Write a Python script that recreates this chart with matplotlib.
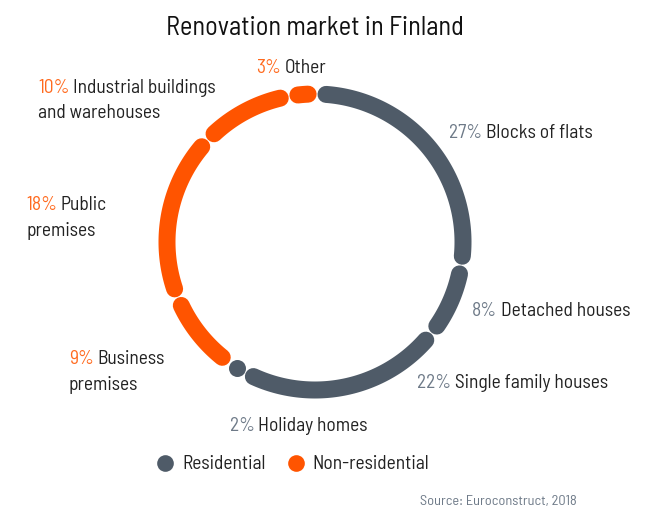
import numpy as np
import matplotlib
matplotlib.use("Agg")
import matplotlib.pyplot as plt

categories = ["Blocks of flats", "Detached houses", "Single family houses", "Holiday homes",
              "Business\npremises", "Public\npremises", "Industrial buildings\nand warehouses", "Other"]
values = [27, 8, 22, 2, 9, 18, 10, 3]
groups = ["Residential", "Residential", "Residential", "Residential",
          "Non-residential", "Non-residential", "Non-residential", "Non-residential"]
title = "Renovation market in Finland"
source = "Source: Euroconstruct, 2018"

colors = {"Residential": "#4F5B68", "Non-residential": "#FF5400"}
pct_colors = {"Residential": "#6E7A88", "Non-residential": "#FF6A1E"}
text_color = "#222222"

# layout (pixel coords of the label's left edge and first-line centre)
label_pos = [(449, 133), (472, 311), (417, 383), (230, 426),
             (69, 359), (26, 205), (38, 88), (256, 68)]

plt.rcParams["font.family"] = ["Barlow Semi Condensed", "DejaVu Sans"]

W, H = 654, 511
fig = plt.figure(figsize=(W / 100, H / 100), dpi=100)
ax = fig.add_axes([0, 0, 1, 1])
ax.set_xlim(0, W)
ax.set_ylim(H, 0)
ax.set_aspect("equal")
ax.axis("off")

cx, cy, r = 315, 242, 148
lw_px = 17
lw_pt = lw_px * 72 / 100
cap_deg = np.degrees((lw_px / 2) / r)
gap_deg = 0.35

total = sum(values)
start = 90.0 - 0.8
for v, g in zip(values, groups):
    span = v / total * 360.0
    a0 = start - cap_deg - gap_deg / 2
    a1 = start - span + cap_deg + gap_deg / 2
    if a1 >= a0 - 0.5:
        am = np.radians(start - span / 2)
        ax.plot([cx + r * np.cos(am)], [cy - r * np.sin(am)], "o", color=colors[g],
                ms=lw_pt, mew=0)
    else:
        th = np.radians(np.linspace(a0, a1, 100))
        ax.plot(cx + r * np.cos(th), cy - r * np.sin(th), color=colors[g], lw=lw_pt,
                solid_capstyle="round")
    start -= span

fs = 14
line_h = 25.5
for cat, v, g, (x, y) in zip(categories, values, groups, label_pos):
    lines = cat.split("\n")
    t = ax.text(x, y, f"{v}%", color=pct_colors[g], fontsize=fs, va="center", ha="left")
    ax.annotate(lines[0], xy=(1, 0.5), xycoords=t, xytext=(2.5, 0), textcoords="offset points",
                va="center", ha="left", color=text_color, fontsize=fs)
    for i, ln in enumerate(lines[1:], start=1):
        ax.text(x, y + i * line_h, ln, color=text_color, fontsize=fs, va="center", ha="left")

ax.text(315, 28, title, fontsize=19, ha="center", va="center", color="#111111")

# legend
for gx, g, tx in [(165, "Residential", 182), (296, "Non-residential", 312)]:
    ax.plot([gx], [463], "o", color=colors[g], ms=12, mew=0)
    ax.text(tx, 464, g, fontsize=fs, va="center", ha="left", color=text_color)

ax.text(577, 501, source, fontsize=10.3, ha="right", va="center", color="#6E7A88")

fig.savefig("out.png", dpi=100)
